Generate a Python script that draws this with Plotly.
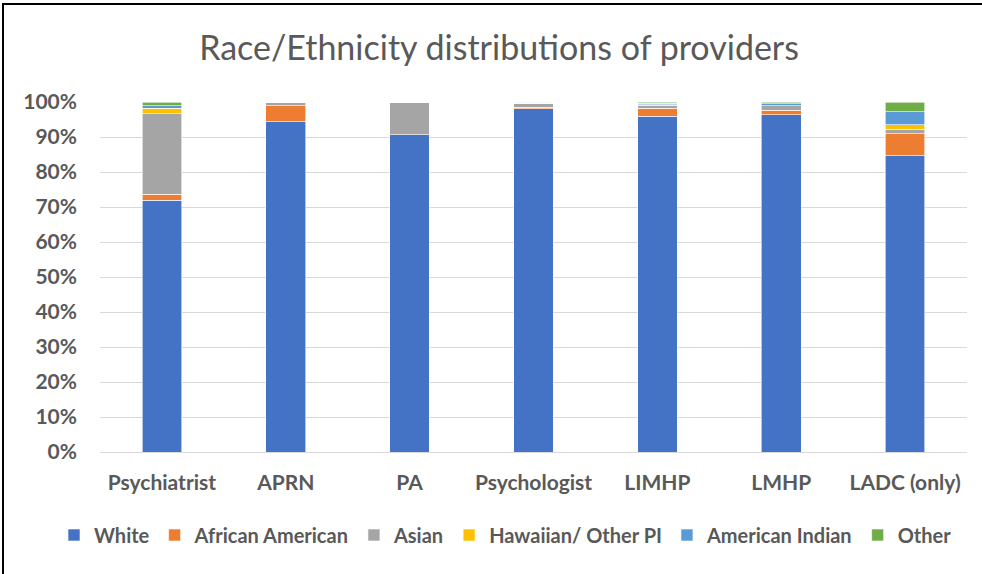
import plotly.graph_objects as go

categories = ["Psychiatrist", "APRN", "PA", "Psychologist", "LIMHP", "LMHP", "LADC (only)"]
white = [72.0, 94.3, 90.7, 98.1, 95.9, 96.3, 84.6]
african_american = [1.6, 4.6, 0.0, 0.4, 2.3, 1.3, 6.3]
asian = [23.0, 1.1, 9.3, 1.2, 0.9, 1.4, 1.3]
hawaiian = [1.6, 0.0, 0.0, 0.0, 0.1, 0.0, 1.3]
american_indian = [0.8, 0.0, 0.0, 0.3, 0.5, 0.5, 3.7]
other = [1.0, 0.0, 0.0, 0.0, 0.3, 0.5, 2.8]

series = [
    ("White", white, "#4472C4"),
    ("African American", african_american, "#ED7D31"),
    ("Asian", asian, "#A5A5A5"),
    ("Hawaiian/ Other PI", hawaiian, "#FFC000"),
    ("American Indian", american_indian, "#5B9BD5"),
    ("Other", other, "#70AD47"),
]

font_family = "Lato, 'Open Sans', 'Liberation Sans', sans-serif"
grey = "#595959"

fig = go.Figure()
for name, vals, color in series:
    fig.add_trace(go.Bar(
        x=categories,
        y=[v / 100 for v in vals],
        name=name,
        marker=dict(color=color, line=dict(color="white", width=0.6)),
    ))

fig.update_layout(
    barmode="stack",
    bargap=0.68,
    width=982,
    height=574,
    margin=dict(l=100, r=15, t=102, b=122),
    paper_bgcolor="white",
    plot_bgcolor="white",
    title=dict(
        text="Race/Ethnicity distributions of providers",
        x=499 / 982, xanchor="center", y=1 - 48 / 574, yanchor="middle",
        font=dict(family=font_family, size=34, color=grey),
    ),
    xaxis=dict(
        tickfont=dict(family=font_family, size=21, color=grey, weight="bold"),
        showgrid=False,
        showline=False,
        ticks="",
        ticklabelstandoff=16,
    ),
    yaxis=dict(
        range=[0, 1.0],
        dtick=0.1,
        tickformat=".0%",
        tickfont=dict(family=font_family, size=21, color=grey, weight="bold"),
        gridcolor="#D9D9D9",
        gridwidth=1,
        zeroline=True,
        zerolinecolor="#D9D9D9",
        zerolinewidth=1,
        ticks="",
        ticklabelstandoff=22,
    ),
    legend=dict(
        orientation="h",
        x=-(100 - 54) / 867, xanchor="left",
        y=-(535 - 452) / 350, yanchor="middle",
        font=dict(family=font_family, size=20, color=grey, weight="bold"),
        traceorder="normal",
        itemwidth=30,
    ),
    shapes=[dict(
        type="rect", xref="paper", yref="paper",
        x0=-(100 - 3) / 867, x1=1.2, y0=-1.0, y1=1 + (102 - 4) / 350,
        line=dict(color="black", width=2), fillcolor="rgba(0,0,0,0)", layer="above",
    )],
)

fig.write_html("out.html", config={"displayModeBar": False},
               post_script="document.body.style.margin='0';")
